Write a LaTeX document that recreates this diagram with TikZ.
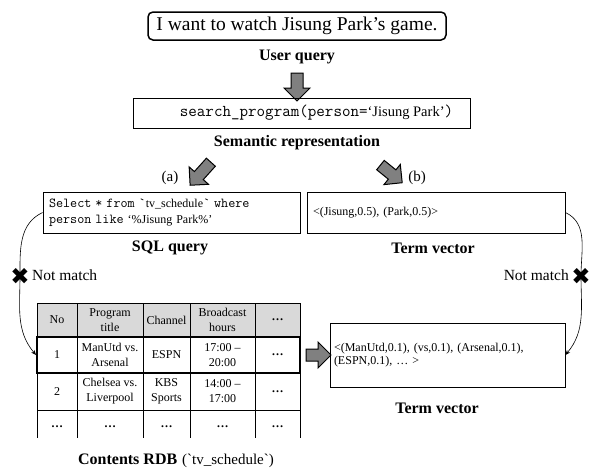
\documentclass[tikz,border=0pt]{standalone}
\usepackage{fontspec}
\setmainfont{Liberation Serif}
\setmonofont{Latin Modern Mono}[Scale=1.143]
\newfontfamily\symfont{DejaVu Sans}
\newfontfamily\rawrm[Ligatures=TeXOff]{Liberation Serif}
\usetikzlibrary{shapes.arrows,arrows.meta}

\newcommand{\tbldots}{\textbf{…}}

\tikzset{
  box/.style={draw, line width=.8pt, inner sep=0pt},
  lbl/.style={font=\fontsize{16}{18}\selectfont\bfseries},
  fatarrow/.style={single arrow, draw, fill=gray, line width=1pt, inner sep=5.5pt,
    single arrow head extend=7pt, minimum height=#1},
  cell/.style={align=center, inner sep=0pt, font=\fontsize{12}{15}\selectfont},
  nomatch/.style={font=\fontsize{15.5}{17}\selectfont, inner sep=0pt},
  cross/.style={font=\symfont\fontsize{23}{23}\selectfont, inner sep=0pt},
  curve/.style={line width=.6pt, -{Stealth[length=5pt,width=4pt]}}
}

\begin{document}
\begin{tikzpicture}[x=1pt, y=1pt]
  \useasboundingbox (0,0) rectangle (592,-467);

  % query and semantic representation
  \node[draw, rounded corners=5pt, line width=1.5pt, minimum width=298pt, minimum height=28pt,
    inner sep=0pt, font=\fontsize{19.5}{22}\selectfont] (query) at (297,-26) {I want to watch Jisung Park's game.};
  \node[lbl] (userlbl) at (297,-57) {User query};
  \node[fatarrow=28pt, rotate=-90] (adown) at (297,-84) {};
  \node[box, minimum width=337pt, minimum height=30pt, font=\fontsize{14.5}{17}\selectfont] (semrep) at (301.5,-113)
    {\hspace*{30pt}\texttt{search\_program(person=}`Jisung Park'\texttt{)}};
  \node[lbl] (semlbl) at (297,-143) {Semantic representation};

  % (a) and (b)
  \node[fatarrow=31pt, rotate=-132] (aleft) at (202.5,-171.5) {};
  \node[fatarrow=28pt, rotate=-39] (aright) at (389,-172) {};
  \node[font=\fontsize{15}{17}\selectfont] (alab) at (170,-178) {(a)};
  \node[font=\fontsize{15}{17}\selectfont] (blab) at (417,-178) {(b)};

  \node[box, minimum width=257pt, minimum height=41pt, text width=245pt, align=left,
    font=\fontsize{12}{16.5}\selectfont] (sqlbox) at (171.5,-212.5)
    {\texttt{Select * from `}tv\_schedule\texttt{` where}\\\texttt{person like }`\%Jisung Park\%'};
  \node[box, minimum width=258pt, minimum height=41pt, text width=246pt, align=left,
    font=\fontsize{12}{14}\selectfont] (termbox) at (436,-212.5) {<(Jisung,0.5), (Park,0.5)>};
  \node[lbl] (sqllbl) at (170,-248) {SQL query};
  \node[lbl] (termlbl) at (433,-248) {Term vector};

  % table
  \fill[gray!30] (37,-303) rectangle (300,-337);
  \draw[line width=.8pt] (37,-303) -- (300,-303) (37,-337) -- (300,-337) (37,-410) -- (300,-410);
  \foreach \x in {37,77,143,190,255,300}
    \draw[line width=.8pt] (\x,-303) -- (\x,-438);
  \node[draw, line width=2pt, minimum width=263pt, minimum height=36pt, inner sep=0pt] (row1) at (168.5,-355) {};
  \foreach \x/\h/\a/\b [count=\i] in {57/No/1/2,
      110/{Program\\title}/{ManUtd vs.\\Arsenal}/{Chelsea vs.\\Liverpool},
      166.5/Channel/ESPN/{KBS\\Sports},
      222.5/{Broadcast\\hours}/{17:00 –\\20:00}/{14:00 –\\17:00},
      277.5/\tbldots/\tbldots/\tbldots} {
    \node[cell] (h\i) at (\x,-320) {\h};
    \node[cell] (ra\i) at (\x,-355) {\a};
    \node[cell] (rb\i) at (\x,-391.5) {\b};
    \node[cell] (rc\i) at (\x,-427) {\tbldots};
  }
  \node[font=\fontsize{16}{18}\selectfont] (rdblbl) at (176,-461)
    {\textbf{Contents RDB}\hspace{5pt}{\rawrm\fontsize{15}{17}\selectfont(`tv\_schedule`)}};

  % second term vector
  \node[fatarrow=25pt] (atable) at (315.5,-355) {};
  \node[box, minimum width=235pt, minimum height=64pt, text width=227pt, align=left,
    font=\fontsize{12}{13.5}\selectfont] (term2box) at (447.5,-355)
    {<(ManUtd,0.1), (vs,0.1), (Arsenal,0.1),\\(ESPN,0.1), … >};
  \node[lbl] (term2lbl) at (437,-408) {Term vector};

  % not match
  \node[cross] (xl) at (20,-276) {✖};
  \node[cross] (xr) at (581,-276) {✖};
  \node[nomatch, anchor=west] (nml) at (32,-275) {Not match};
  \node[nomatch, anchor=east] (nmr) at (569,-275) {Not match};
  \draw[curve] (sqlbox.west) to[out=205,in=90] (xl.center) to[out=-90,in=130] (row1.west);
  \draw[curve] (termbox.east) to[out=-25,in=90] (xr.center) to[out=-90,in=50] (term2box.east);
\end{tikzpicture}
\end{document}
